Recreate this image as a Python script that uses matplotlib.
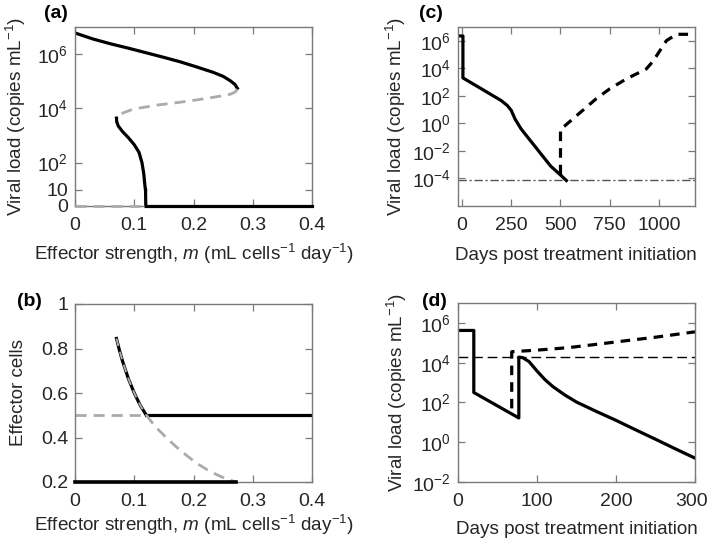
import numpy as np
import matplotlib
matplotlib.use("Agg")
import matplotlib.pyplot as plt
from matplotlib.transforms import ScaledTranslation

plt.rcParams['font.family'] = ['Liberation Sans', 'DejaVu Sans']
plt.rcParams['mathtext.fontset'] = 'custom'
plt.rcParams['mathtext.rm'] = 'Liberation Sans'
plt.rcParams['mathtext.it'] = 'Liberation Sans:italic'
plt.rcParams['mathtext.bf'] = 'Liberation Sans:bold'

# ---------------- data ----------------
# (a) viral load vs effector strength (bifurcation diagram)
a_upper_m = [0, 0.03, 0.06, 0.09, 0.12, 0.15, 0.177, 0.205, 0.233, 0.250, 0.262, 0.270, 0.274]
a_upper_logv = [6.78, 6.56, 6.38, 6.22, 6.05, 5.88, 5.72, 5.53, 5.33, 5.18, 5.02, 4.88, 4.74]
a_mid_m = [0.274, 0.270, 0.262, 0.245, 0.220, 0.195, 0.172, 0.138, 0.098, 0.082, 0.074, 0.070]
a_mid_logv = [4.70, 4.60, 4.52, 4.45, 4.36, 4.28, 4.21, 4.12, 3.97, 3.84, 3.74, 3.64]
a_low_m = [0.070, 0.0705, 0.073, 0.080, 0.090, 0.100, 0.108, 0.113, 0.116, 0.118, 0.1190]
a_low_logv = [3.64, 3.50, 3.35, 3.15, 2.92, 2.66, 2.38, 2.00, 1.60, 1.15, 1.00]
a_low_end_m = [0.1190, 0.1195]
a_low_end_v = [10, 0]
a_zero_unstable_m = [0, 0.1195]
a_zero_stable_m = [0.1195, 0.4]
a_zero_v = [0, 0]

# (b) effector cells vs effector strength
b_upper_m = [0.070, 0.075, 0.080, 0.090, 0.100, 0.110, 0.120]
b_upper_e = [0.845, 0.792, 0.745, 0.665, 0.600, 0.545, 0.502]
b_lowbranch_m = [0.120, 0.135, 0.154, 0.170, 0.188, 0.205, 0.222, 0.240, 0.255, 0.272]
b_lowbranch_e = [0.502, 0.450, 0.400, 0.360, 0.320, 0.285, 0.257, 0.232, 0.214, 0.200]
b_half_unstable_m = [0, 0.12]
b_half_stable_m = [0.12, 0.4]
b_half_e = [0.5, 0.5]
b_base_m = [0, 0.272]
b_base_e = [0.2, 0.2]

# (c) viral load vs days
c_solid_day = [-20, 5, 5, 100, 200, 230, 250, 270, 300, 350, 400, 450, 500, 530]
c_solid_logv = [6.35, 6.35, 3.30, 2.50, 1.65, 1.30, 0.95, 0.30, -0.40, -1.30, -2.20, -3.10, -3.75, -4.15]
c_dash_day = [500, 500, 521, 614, 682, 749, 834, 935, 969, 1037, 1088, 1180]
c_dash_logv = [-3.70, -0.40, -0.19, 0.96, 1.80, 2.50, 3.23, 3.95, 4.50, 6.00, 6.47, 6.47]
c_threshold = 8e-5

# (d) viral load vs days
d_solid_day = [0, 20, 20, 77, 77, 82, 90, 100, 110, 120, 135, 150, 175, 200, 225, 250, 275, 300]
d_solid_logv = [5.62, 5.62, 2.50, 1.22, 4.28, 4.25, 4.05, 3.58, 3.15, 2.80, 2.38, 2.02, 1.55, 1.10, 0.62, 0.15, -0.33, -0.80]
d_dash_day = [68, 68, 100, 129, 145, 175, 212, 250, 300]
d_dash_logv = [1.70, 4.55, 4.63, 4.72, 4.78, 4.92, 5.10, 5.28, 5.55]
d_threshold = 2e4

# ---------------- styling ----------------
W, H = 709, 544
fig = plt.figure(figsize=(W / 100, H / 100), dpi=100)
FRAME = '#7a7a7a'
TXT = '#262626'
GRAY = '#ababab'
FS = 14
FSL = 13.6
LW = 2.0

def px_axes(l, t, r, b):
    return fig.add_axes([l / W, 1 - b / H, (r - l) / W, (b - t) / H])

def style(ax):
    for s in ax.spines.values():
        s.set_color(FRAME)
        s.set_linewidth(1.0)
    ax.tick_params(which='both', direction='in', top=True, right=True,
                   length=5, width=0.9, color=FRAME, labelsize=FS, labelcolor=TXT)
    ax.tick_params(axis='x', pad=8)
    ax.tick_params(axis='y', pad=5)
    ax.minorticks_off()

def labels(ax, xl, yl, xly, ylx):
    ax.set_xlabel(xl, fontsize=FSL, color=TXT, va='center')
    ax.set_ylabel(yl, fontsize=FSL, color=TXT, va='center')
    ax.xaxis.set_label_coords(0.5, xly)
    ax.yaxis.set_label_coords(ylx, 0.5)

xlab_m = r'Effector strength, $m$ (mL cells$^{-1}$ day$^{-1}$)'
ylab_v = r'Viral load (copies mL$^{-1}$)'
xlab_d = 'Days post treatment initiation'

# ---- (a)
axa = px_axes(75, 27, 312, 206)
axa.set_yscale('symlog', linthresh=10, linscale=0.54)
axa.plot(a_zero_unstable_m, a_zero_v, color=GRAY, lw=LW, dashes=(4, 2.5), clip_on=False, zorder=3)
axa.plot(a_zero_stable_m, a_zero_v, color='black', lw=LW + 0.3, clip_on=False, zorder=3)
axa.plot(a_upper_m, 10 ** np.array(a_upper_logv), color='black', lw=LW + 0.3)
axa.plot(a_mid_m, 10 ** np.array(a_mid_logv), color=GRAY, lw=LW, dashes=(4, 2.5))
axa.plot(a_low_m, 10 ** np.array(a_low_logv), color='black', lw=LW + 0.3)
axa.plot(a_low_end_m, a_low_end_v, color='black', lw=LW + 0.3, clip_on=False)
axa.set_xlim(0, 0.4)
axa.set_ylim(0, 1e7)
axa.set_xticks([0, 0.1, 0.2, 0.3, 0.4], ['0', '0.1', '0.2', '0.3', '0.4'])
axa.set_yticks([0, 10, 1e2, 1e4, 1e6], ['0', '10', r'$10^2$', r'$10^4$', r'$10^6$'])
style(axa)
labels(axa, xlab_m, ylab_v, (206 - 254) / 179, (16 - 75) / 237)

# ---- (b)
axb = px_axes(75, 304, 312, 482)
axb.plot(b_half_unstable_m, b_half_e, color=GRAY, lw=LW, dashes=(4, 2.5))
axb.plot(b_half_stable_m, b_half_e, color='black', lw=LW + 0.3)
axb.plot(b_upper_m, b_upper_e, color='black', lw=LW + 0.3)
axb.plot(b_upper_m, b_upper_e, color=GRAY, lw=LW - 0.6, dashes=(4, 3))
axb.plot(b_lowbranch_m, b_lowbranch_e, color=GRAY, lw=LW, dashes=(4, 2.5))
axb.plot(b_base_m, b_base_e, color='black', lw=LW + 0.6, clip_on=False, zorder=3)
axb.set_xlim(0, 0.4)
axb.set_ylim(0.2, 1)
axb.set_xticks([0, 0.1, 0.2, 0.3, 0.4], ['0', '0.1', '0.2', '0.3', '0.4'])
axb.set_yticks([0.2, 0.4, 0.6, 0.8, 1.0], ['0.2', '0.4', '0.6', '0.8', '1'])
style(axb)
labels(axb, xlab_m, 'Effector cells', (482 - 525) / 178, (19 - 75) / 237)

# ---- (c)
axc = px_axes(458, 27, 694.5, 206)
axc.set_yscale('log')
axc.axhline(c_threshold, color='#555555', lw=1.0, dashes=(6, 2, 1.5, 2))
axc.plot(c_solid_day, 10 ** np.array(c_solid_logv), color='black', lw=LW + 0.3)
axc.plot(c_dash_day, 10 ** np.array(c_dash_logv), color='black', lw=LW + 0.3, dashes=(3, 2.2))
axc.set_xlim(-20, 1180)
axc.set_ylim(1e-6, 1e7)
axc.set_xticks([0, 250, 500, 750, 1000], ['0', '250', '500', '750', '1000'])
axc.set_yticks([1e-4, 1e-2, 1, 1e2, 1e4, 1e6],
               [r'$10^{-4}$', r'$10^{-2}$', r'$10^0$', r'$10^2$', r'$10^4$', r'$10^6$'])
style(axc)
labels(axc, xlab_d, ylab_v, (206 - 256) / 179, (396 - 458) / 236.5)

# ---- (d)
axd = px_axes(458, 303, 695, 482)
axd.set_yscale('log')
axd.axhline(d_threshold, color='black', lw=1.0, dashes=(7, 3.5))
axd.plot(d_solid_day, 10 ** np.array(d_solid_logv), color='black', lw=LW + 0.3)
axd.plot(d_dash_day, 10 ** np.array(d_dash_logv), color='black', lw=LW + 0.3, dashes=(3, 2.2))
axd.set_xlim(0, 300)
axd.set_ylim(1e-2, 1e7)
axd.set_xticks([0, 100, 200, 300], ['0', '100', '200', '300'])
axd.set_yticks([1e-2, 1, 1e2, 1e4, 1e6],
               [r'$10^{-2}$', r'$10^0$', r'$10^2$', r'$10^4$', r'$10^6$'])
style(axd)
labels(axd, xlab_d, ylab_v, (482 - 530) / 179, (397 - 458) / 237)
# keep the last tick label inside the canvas
lbl = axd.get_xticklabels()[-1]
lbl.set_transform(lbl.get_transform() + ScaledTranslation(-3 / 100, 0, fig.dpi_scale_trans))

# panel letters
for txt, x, y in [('(a)', 56, 14), ('(b)', 29, 301), ('(c)', 431, 14), ('(d)', 434, 301)]:
    fig.text(x / W, 1 - y / H, txt, fontsize=FS, fontweight='bold', color='black',
             ha='center', va='center')

fig.savefig('out.png', dpi=100)
